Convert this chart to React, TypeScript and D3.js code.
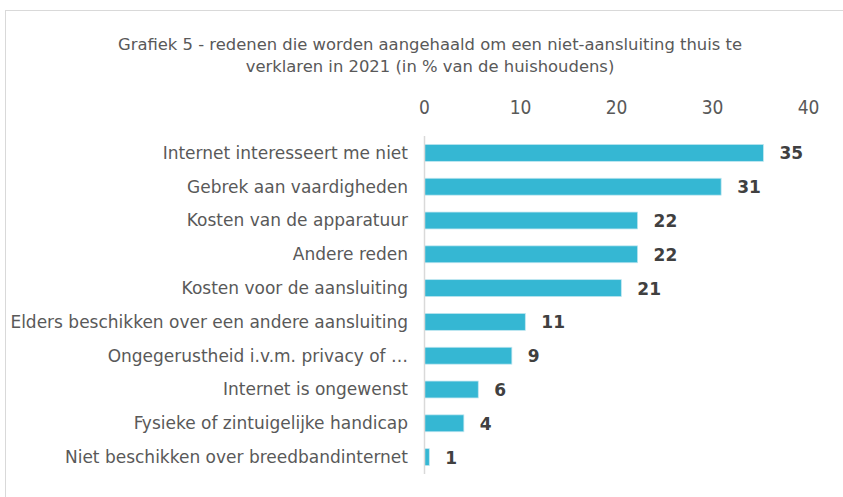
import React from "react";
import * as d3 from "d3";

const categories = [
  "Internet interesseert me niet",
  "Gebrek aan vaardigheden",
  "Kosten van de apparatuur",
  "Andere reden",
  "Kosten voor de aansluiting",
  "Elders beschikken over een andere aansluiting",
  "Ongegerustheid i.v.m. privacy of …",
  "Internet is ongewenst",
  "Fysieke of zintuigelijke handicap",
  "Niet beschikken over breedbandinternet",
];
const values = [35.3, 30.9, 22.2, 22.2, 20.5, 10.5, 9.1, 5.6, 4.1, 0.5];
const labels = ["35", "31", "22", "22", "21", "11", "9", "6", "4", "1"];
const ticks = [0, 10, 20, 30, 40];
const titleLines = [
  "Grafiek 5 - redenen die worden aangehaald om een niet-aansluiting thuis te",
  "verklaren in 2021 (in % van de huishoudens)",
];

const FONT = "'DejaVu Sans', sans-serif";
const FONT_C = "'DejaVu Sans Condensed', 'DejaVu Sans', sans-serif";

export default function App() {
  const W = 843;
  const H = 497;
  const x = d3.scaleLinear().domain([0, 40]).range([424.5, 808.5]);
  const y = d3.scaleBand<string>().domain(categories).range([136, 474]).paddingInner(0.5).paddingOuter(0.25);
  return (
    <svg width={W} height={H} style={{ position: "absolute", left: 0, top: 0 }} fontFamily={FONT}>
      <rect x={0} y={0} width={W} height={H} fill="#fff" />
      <rect x={5.5} y={10.5} width={W + 10} height={H + 10} fill="none" stroke="#d9d9d9" />
      {titleLines.map((t, i) => (
        <text key={i} x={430} y={50 + i * 22} textAnchor="middle" fontSize={16.4} fill="#595959">
          {t}
        </text>
      ))}
      {ticks.map((t) => (
        <text key={t} x={x(t)} y={114} textAnchor="middle" fontSize={19} fill="#595959" fontFamily={FONT_C}>
          {t}
        </text>
      ))}
      {categories.map((c, i) => (
        <g key={c}>
          <rect
            x={x(0)}
            y={y(c)!}
            width={x(values[i]) - x(0)}
            height={y.bandwidth()}
            fill="#35B7D3"
            stroke="#bfe6f0"
            strokeWidth={0.75}
          />
          <text x={408} y={y(c)! + y.bandwidth() / 2} dy="0.35em" textAnchor="end" fontSize={17} fill="#595959">
            {c}
          </text>
          <text
            x={x(values[i]) + 16}
            y={y(c)! + y.bandwidth() / 2}
            dy="0.38em"
            fontSize={17}
            fontWeight="bold"
            fill="#404040"
          >
            {labels[i]}
          </text>
        </g>
      ))}
      <line x1={x(0)} x2={x(0)} y1={136} y2={474} stroke="#d9d9d9" strokeWidth={1.5} />
    </svg>
  );
}
